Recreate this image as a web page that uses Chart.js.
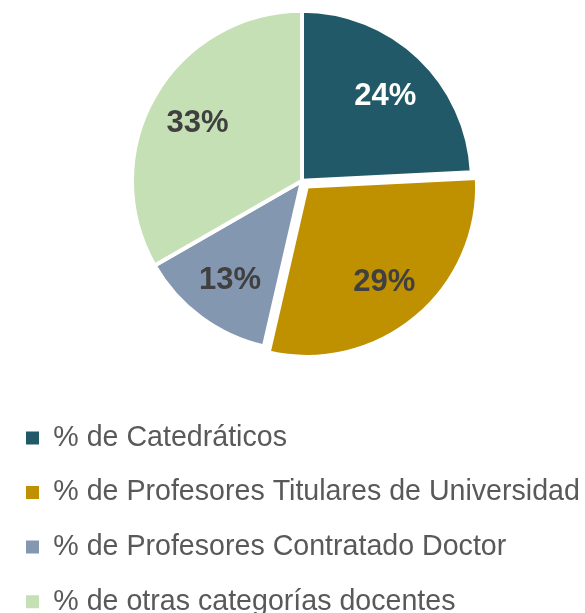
<!DOCTYPE html>
<html>
<head>
<meta charset="utf-8">
<script src="https://cdn.jsdelivr.net/npm/chart.js@4/dist/chart.umd.min.js"></script>
<style>
    html, body { margin: 0; padding: 0; background: #fff; overflow: hidden; width: 585px; height: 613px; }
    canvas { display: block; margin-top: -36px; }
</style>
</head>
<body>
<canvas id="pieChart" width="604" height="662"></canvas>
<script>
const categories = [
    '% de Catedráticos',
    '% de Profesores Titulares de Universidad',
    '% de Profesores Contratado Doctor',
    '% de otras categorías docentes'
];
const shares = [24.2, 29.4, 13.1, 33.3];
const sliceColors = ['#215968', '#BF9000', '#8497B0', '#C5E0B4'];
const labelColors = ['#FFFFFF', '#404040', '#404040', '#404040'];
// how far each slice is pulled out, in px
const explode = [0, 7.5, 0, 0];

// percentages written inside the slices
const sliceLabels = {
    id: 'sliceLabels',
    afterDatasetsDraw(chart) {
        const ctx = chart.ctx;
        const meta = chart.getDatasetMeta(0);
        const total = shares.reduce((a, b) => a + b, 0);
        ctx.save();
        ctx.font = 'bold 31px "Liberation Sans", Arial, sans-serif';
        ctx.textAlign = 'center';
        ctx.textBaseline = 'middle';
        meta.data.forEach((arc, i) => {
            const p = arc.getProps(['x', 'y', 'startAngle', 'endAngle', 'outerRadius'], true);
            const mid = (p.startAngle + p.endAngle) / 2;
            const dist = p.outerRadius * 0.71 + explode[i];
            ctx.fillStyle = labelColors[i];
            ctx.fillText(Math.round(shares[i] / total * 100) + '%',
                p.x + Math.cos(mid) * dist, p.y + Math.sin(mid) * dist + 3);
        });
        ctx.restore();
    }
};

new Chart(document.getElementById('pieChart'), {
    type: 'pie',
    data: {
        labels: categories,
        datasets: [
            {
                data: shares,
                backgroundColor: sliceColors,
                borderColor: '#FFFFFF',
                borderWidth: 4,
                offset: explode.map(v => v * 4), // arc offset is drawn at a quarter
                hoverOffset: 0
            }
        ]
    },
    options: {
        responsive: false,
        animation: false,
        devicePixelRatio: 1,
        radius: 170,
        layout: { padding: 0 },
        plugins: {
            legend: {
                position: 'bottom',
                align: 'start',
                labels: {
                    boxWidth: 13,
                    boxHeight: 13,
                    padding: 26,
                    color: '#595959',
                    font: { family: '"Liberation Sans", Arial, sans-serif', size: 28.6 },
                    generateLabels(chart) {
                        // no white frame round the legend boxes
                        return Chart.overrides.doughnut.plugins.legend.labels.generateLabels(chart)
                            .map(item => Object.assign(item, { lineWidth: 0 }));
                    }
                }
            },
            tooltip: { enabled: false }
        }
    },
    plugins: [sliceLabels]
});
</script>
</body>
</html>
